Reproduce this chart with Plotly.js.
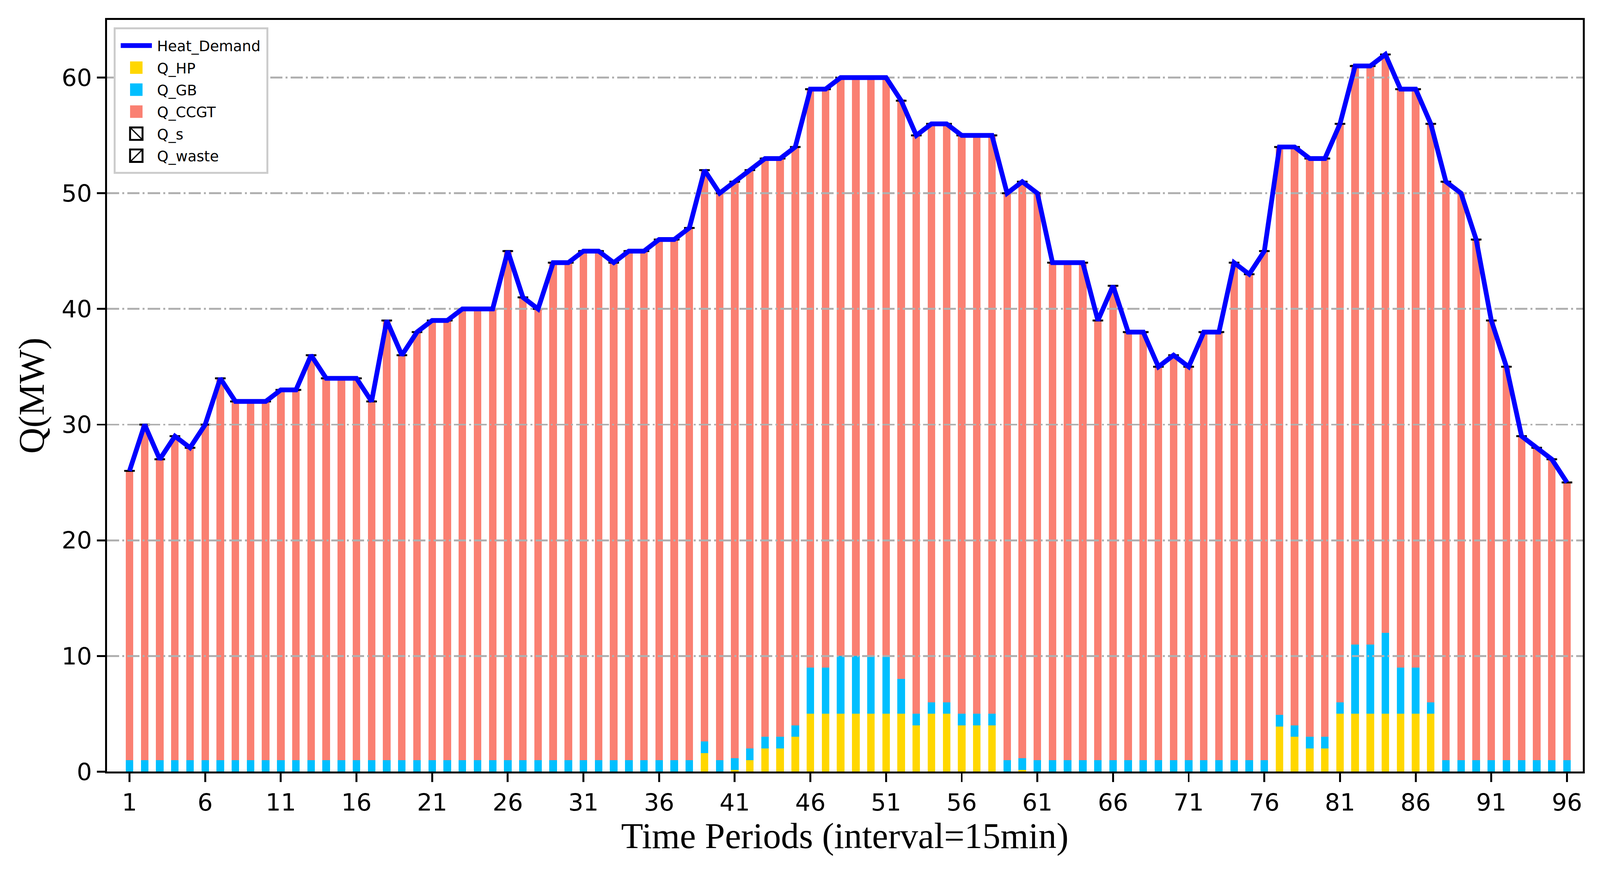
<!DOCTYPE html>
<html>
<head>
<meta charset="utf-8">
<script src="https://cdn.plot.ly/plotly-3.0.1.min.js"></script>
<style>
  html, body { margin: 0; padding: 0; background: #fff; overflow: hidden; }
  /* the figure is laid out at about 1/3 size and zoomed up to fill the window,
     so legend swatches keep matplotlib-like proportions next to the text */
  #chart { width: 1540.67px; height: 754.33px; }
</style>
</head>
<body>
<div id="chart"></div>
<script>
// 96 quarter-hour periods
const periods = Array.from({ length: 96 }, (_, i) => i + 1);
const xTicks = [1, 6, 11, 16, 21, 26, 31, 36, 41, 46, 51, 56, 61, 66, 71, 76, 81, 86, 91, 96];
const yTicks = [0, 10, 20, 30, 40, 50, 60];

const heatDemand = [
  26, 30, 27, 29, 28, 30, 34, 32, 32, 32,
  33, 33, 36, 34, 34, 34, 32, 39, 36, 38,
  39, 39, 40, 40, 40, 45, 41, 40, 44, 44,
  45, 45, 44, 45, 45, 46, 46, 47, 52, 50,
  51, 52, 53, 53, 54, 59, 59, 60, 60, 60,
  60, 58, 55, 56, 56, 55, 55, 55, 50, 51,
  50, 44, 44, 44, 39, 42, 38, 38, 35, 36,
  35, 38, 38, 44, 43, 45, 54, 54, 53, 53,
  56, 61, 61, 62, 59, 59, 56, 51, 50, 46,
  39, 35, 29, 28, 27, 25
];

const qHP = [
  0, 0, 0, 0, 0, 0, 0, 0, 0, 0,
  0, 0, 0, 0, 0, 0, 0, 0, 0, 0,
  0, 0, 0, 0, 0, 0, 0, 0, 0, 0,
  0, 0, 0, 0, 0, 0, 0, 0, 1.6, 0,
  0.15, 1, 2, 2, 3, 5, 5, 5, 5, 5,
  5, 5, 4, 5, 5, 4, 4, 4, 0, 0.15,
  0, 0, 0, 0, 0, 0, 0, 0, 0, 0,
  0, 0, 0, 0, 0, 0, 3.9, 3, 2, 2,
  5, 5, 5, 5, 5, 5, 5, 0, 0, 0,
  0, 0, 0, 0, 0, 0
];

const qGB = [
  1, 1, 1, 1, 1, 1, 1, 1, 1, 1,
  1, 1, 1, 1, 1, 1, 1, 1, 1, 1,
  1, 1, 1, 1, 1, 1, 1, 1, 1, 1,
  1, 1, 1, 1, 1, 1, 1, 1, 1, 1,
  1, 1, 1, 1, 1, 4, 4, 5, 5, 5,
  4.9, 3, 1, 1, 1, 1, 1, 1, 1, 1,
  1, 1, 1, 1, 1, 1, 1, 1, 1, 1,
  1, 1, 1, 1, 1, 1, 1, 1, 1, 1,
  1, 6, 6, 7, 4, 4, 1, 1, 1, 1,
  1, 1, 1, 1, 1, 1
];

const qCCGT = [
  25, 29, 26, 28, 27, 29, 33, 31, 31, 31,
  32, 32, 35, 33, 33, 33, 31, 38, 35, 37,
  38, 38, 39, 39, 39, 44, 40, 39, 43, 43,
  44, 44, 43, 44, 44, 45, 45, 46, 49.4, 49,
  49.85, 50, 50, 50, 50, 50, 50, 50, 50, 50,
  50.1, 50, 50, 50, 50, 50, 50, 50, 49, 49.85,
  49, 43, 43, 43, 38, 41, 37, 37, 34, 35,
  34, 37, 37, 43, 42, 44, 49.1, 50, 50, 50,
  50, 50, 50, 50, 50, 50, 50, 50, 49, 45,
  38, 34, 28, 27, 26, 24
];

// storage and waste heat are zero in every period (legend entries only)
const qS = [
  0, 0, 0, 0, 0, 0, 0, 0, 0, 0, 0, 0, 0, 0, 0, 0, 0, 0, 0, 0, 0, 0, 0, 0,
  0, 0, 0, 0, 0, 0, 0, 0, 0, 0, 0, 0, 0, 0, 0, 0, 0, 0, 0, 0, 0, 0, 0, 0,
  0, 0, 0, 0, 0, 0, 0, 0, 0, 0, 0, 0, 0, 0, 0, 0, 0, 0, 0, 0, 0, 0, 0, 0,
  0, 0, 0, 0, 0, 0, 0, 0, 0, 0, 0, 0, 0, 0, 0, 0, 0, 0, 0, 0, 0, 0, 0, 0
];
const qWaste = [
  0, 0, 0, 0, 0, 0, 0, 0, 0, 0, 0, 0, 0, 0, 0, 0, 0, 0, 0, 0, 0, 0, 0, 0,
  0, 0, 0, 0, 0, 0, 0, 0, 0, 0, 0, 0, 0, 0, 0, 0, 0, 0, 0, 0, 0, 0, 0, 0,
  0, 0, 0, 0, 0, 0, 0, 0, 0, 0, 0, 0, 0, 0, 0, 0, 0, 0, 0, 0, 0, 0, 0, 0,
  0, 0, 0, 0, 0, 0, 0, 0, 0, 0, 0, 0, 0, 0, 0, 0, 0, 0, 0, 0, 0, 0, 0, 0
];

const BASE_W = 4622 / 3;
const LW = 1.85;   // 0.8pt at the scaled-down size
const tickFont = { family: 'DejaVu Sans, sans-serif', size: 23, color: '#000' };
const titleFont = { family: 'Times New Roman, Liberation Serif, serif', size: 34.7, color: '#000' };

// zoom the small layout up so it fills the real window, width and height
const chartEl = document.getElementById('chart');
const zoom = window.innerWidth / BASE_W;
const baseH = window.innerHeight / zoom;
chartEl.style.height = baseH + 'px';
chartEl.style.zoom = String(zoom);

function barTrace(name, y, color) {
  return {
    type: 'bar', name, x: periods, y, width: 0.5,
    marker: { color, line: { width: 0 } },
    xaxis: 'x', yaxis: 'y'
  };
}

function hatchTrace(name, y, shape) {
  return {
    type: 'bar', name, x: periods, y, width: 0.5,
    marker: {
      color: '#fff',
      line: { color: '#000', width: LW },
      pattern: { shape, fgcolor: '#000', bgcolor: '#fff', size: 11, solidity: 0.15 }
    },
    xaxis: 'x', yaxis: 'y'
  };
}

const data = [
  // small black caps at the top of each stack (zero-height edged bars in the original)
  {
    type: 'scatter', mode: 'markers', x: periods, y: heatDemand,
    marker: { symbol: 'line-ew', size: 7.3, line: { color: '#000', width: LW } },
    showlegend: false, xaxis: 'x', yaxis: 'y'
  },
  {
    type: 'scatter', mode: 'lines', name: 'Heat_Demand', x: periods, y: heatDemand,
    line: { color: '#0000ff', width: 4.6 },
    xaxis: 'x2', yaxis: 'y2'
  },
  barTrace('Q_HP', qHP, '#ffd700'),
  barTrace('Q_GB', qGB, '#00bfff'),
  barTrace('Q_CCGT', qCCGT, '#fa8072'),
  hatchTrace('Q_s', qS, '\\'),
  hatchTrace('Q_waste', qWaste, '/')
];

const axisBase = {
  ticks: 'outside', ticklen: 8, tickwidth: LW, tickcolor: '#000',
  showline: true, linecolor: '#000', linewidth: LW, mirror: true,
  showgrid: false, zeroline: false, tickfont: tickFont, automargin: false
};

const layout = {
  width: BASE_W, height: baseH,
  margin: { l: 103.3, r: 16.7, t: baseH * 50 / 2263, b: baseH * 288 / 2263 },
  paper_bgcolor: '#fff', plot_bgcolor: 'rgba(0,0,0,0)',
  barmode: 'stack', bargap: 0,
  hovermode: false,
  xaxis: Object.assign({}, axisBase, {
    range: [-0.49, 97.04], tickmode: 'array', tickvals: xTicks,
    title: { text: 'Time Periods (interval=15min)', font: titleFont, standoff: 2 }
  }),
  yaxis: Object.assign({}, axisBase, {
    range: [0, 65], tickmode: 'array', tickvals: yTicks,
    title: { text: 'Q(MW)', font: titleFont, standoff: 6 }
  }),
  // second subplot on the same area: its grid sits above the bars, under the line
  xaxis2: { matches: 'x', anchor: 'y2', visible: false },
  yaxis2: {
    matches: 'y', anchor: 'x2', tickmode: 'array', tickvals: [10, 20, 30, 40, 50, 60],
    showticklabels: false, ticks: '', showline: false, zeroline: false,
    showgrid: true, gridcolor: '#b0b0b0', gridwidth: LW, griddash: '11.8px,3px,1.85px,3px'
  },
  legend: {
    x: 0.0045, y: 0.9897, xanchor: 'left', yanchor: 'top',
    traceorder: 'normal',
    bgcolor: '#fff', bordercolor: '#cccccc', borderwidth: LW,
    font: { family: 'DejaVu Sans, sans-serif', size: 14, color: '#000' }
  },
  showlegend: true
};

Plotly.newPlot('chart', data, layout, { displayModeBar: false, staticPlot: true });
</script>
</body>
</html>
